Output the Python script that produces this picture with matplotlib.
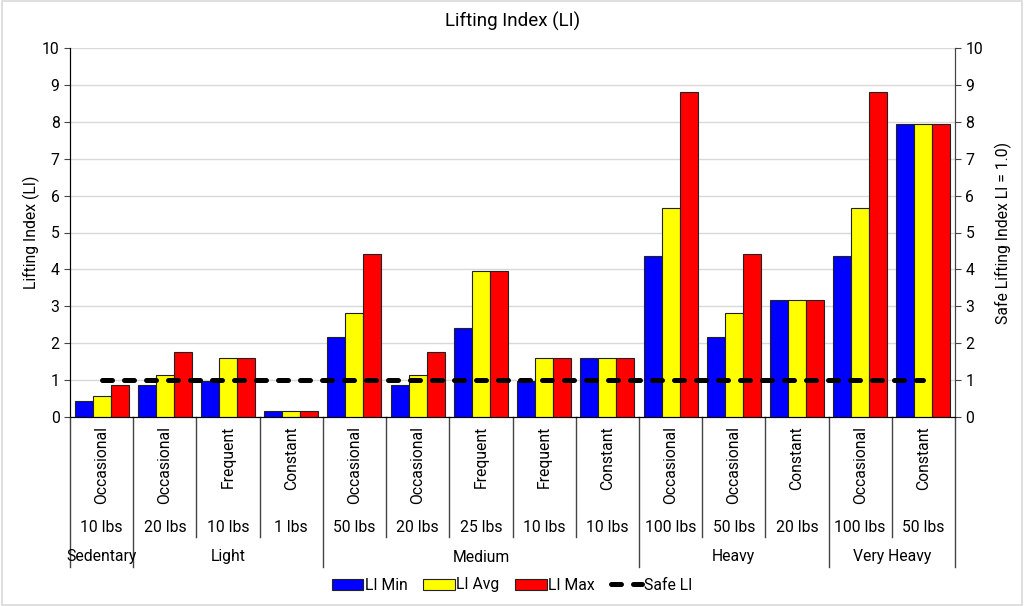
import matplotlib
matplotlib.use("Agg")
import matplotlib.pyplot as plt
from matplotlib.patches import Rectangle
import numpy as np

plt.rcParams['font.family'] = ['Roboto', 'DejaVu Sans']

groups = ["Sedentary", "Light", "Medium", "Heavy", "Very Heavy"]
group_sizes = [1, 3, 5, 3, 2]
frequency = ["Occasional", "Occasional", "Frequent", "Constant", "Occasional", "Occasional",
             "Frequent", "Frequent", "Constant", "Occasional", "Occasional", "Constant",
             "Occasional", "Constant"]
weights = ["10 lbs", "20 lbs", "10 lbs", "1 lbs", "50 lbs", "20 lbs", "25 lbs", "10 lbs",
           "10 lbs", "100 lbs", "50 lbs", "20 lbs", "100 lbs", "50 lbs"]
li_min = [0.44, 0.88, 0.97, 0.16, 2.18, 0.88, 2.42, 0.97, 1.60, 4.36, 2.18, 3.18, 4.36, 7.94]
li_avg = [0.56, 1.14, 1.60, 0.16, 2.83, 1.14, 3.97, 1.60, 1.60, 5.67, 2.83, 3.18, 5.67, 7.94]
li_max = [0.87, 1.76, 1.60, 0.16, 4.41, 1.76, 3.97, 1.60, 1.60, 8.82, 4.41, 3.18, 8.82, 7.94]
safe_li = [1.0] * 14

W, H = 1024, 606
fig = plt.figure(figsize=(W / 100, H / 100), dpi=100)
fig.patches.append(Rectangle((0.002, 0.002), 0.996, 0.996, transform=fig.transFigure,
                             fill=False, edgecolor='#d9d9d9', linewidth=1.2))
ax_l, ax_r, ax_t, ax_b = 70, 955, 48, 417
ax = fig.add_axes([ax_l / W, 1 - ax_b / H, (ax_r - ax_l) / W, (ax_b - ax_t) / H])
axh = ax_b - ax_t

n = len(frequency)
x = np.arange(n)
bw = 0.285
fs = 11.3
ax.bar(x - bw, li_min, bw, color='#0000ff', edgecolor='#222222', linewidth=0.8, label='LI Min', zorder=3)
ax.bar(x, li_avg, bw, color='#ffff00', edgecolor='#222222', linewidth=0.8, label='LI Avg', zorder=3)
ax.bar(x + bw, li_max, bw, color='#ff0000', edgecolor='#222222', linewidth=0.8, label='LI Max', zorder=3)
ax.plot(x, safe_li, color='black', linewidth=3.6, linestyle=(0, (2.0, 2.4)),
        dash_capstyle='round', label='Safe LI', zorder=4)

ax.set_xlim(-0.5, n - 0.5)
ax.set_ylim(0, 10)
ax.set_yticks(range(0, 11))
ax.tick_params(axis='y', labelsize=fs, length=4, color='#444444')
ax.set_xticks([])
ax.grid(axis='y', color='#d9d9d9', linewidth=1, zorder=0)
ax.set_axisbelow(True)
ax.spines['top'].set_visible(False)
for s in ['left', 'right', 'bottom']:
    ax.spines[s].set_color('#444444')
ax.set_ylabel("Lifting Index (LI)", fontsize=fs, labelpad=1)

ax2 = ax.twinx()
ax2.set_ylim(0, 10)
ax2.set_yticks(range(0, 11))
ax2.tick_params(axis='y', labelsize=fs, length=4, color='#444444')
ax2.spines['top'].set_visible(False)
ax2.spines['right'].set_color('#444444')
ax2.set_ylabel("Safe Lifting Index LI = 1.0)", fontsize=fs, labelpad=8)

ax.set_title("Lifting Index (LI)", fontsize=13.5, pad=15)

tr = ax.get_xaxis_transform()
def py(p):
    return -p / axh

for i in range(n):
    ax.text(i, py(9), frequency[i], rotation=90, ha='center', va='top', fontsize=fs,
            transform=tr, clip_on=False)
    ax.text(i, py(110), weights[i], ha='center', va='center', fontsize=fs,
            transform=tr, clip_on=False)

bounds = [-0.5]
for g in group_sizes:
    bounds.append(bounds[-1] + g)
for i in range(n + 1):
    xb = i - 0.5
    depth = 150 if xb in bounds else 120
    ax.plot([xb, xb], [0, py(depth)], color='#444444', linewidth=1, transform=tr, clip_on=False)
for gi, g in enumerate(groups):
    c = (bounds[gi] + bounds[gi + 1]) / 2
    ax.text(c, py(140), g, ha='center', va='center', fontsize=fs, transform=tr, clip_on=False)

h, l = ax.get_legend_handles_labels()
order = [1, 2, 3, 0]
fig.legend([h[o] for o in order], [l[o] for o in order], loc='center', ncol=4,
           bbox_to_anchor=(0.5, 1 - 585 / H), frameon=False, fontsize=fs,
           handlelength=2.0, handletextpad=0.1, columnspacing=1.0)

fig.savefig("out.png", dpi=100)
